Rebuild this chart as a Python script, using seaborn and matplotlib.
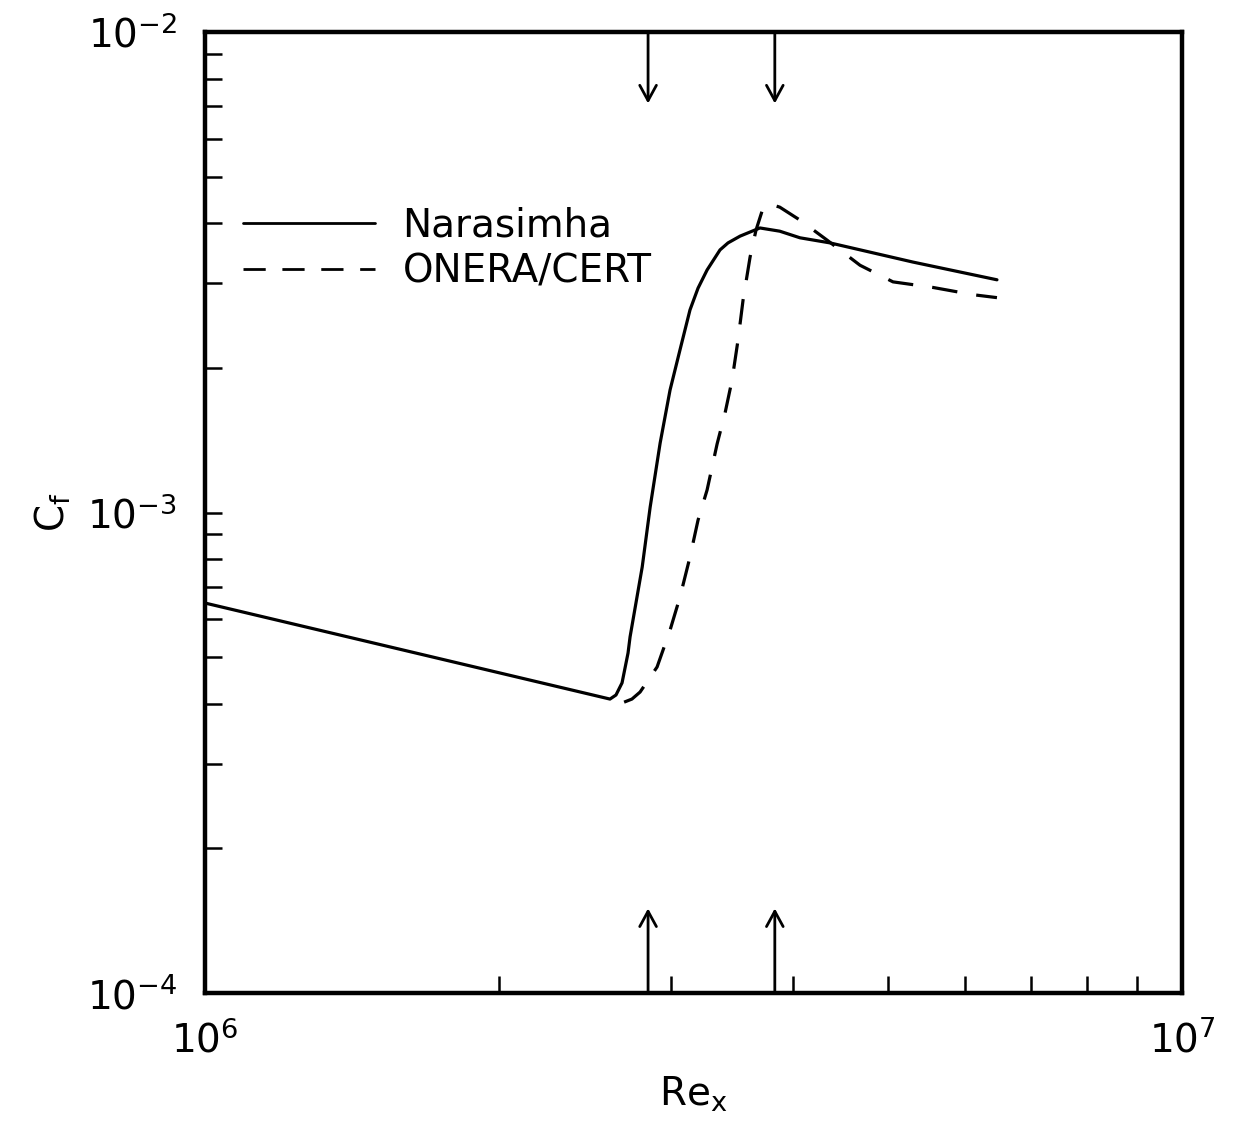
import matplotlib
matplotlib.use("Agg")
import matplotlib.pyplot as plt
import numpy as np
import pandas as pd
import seaborn as sns

# Narasimha curve (solid)
nar_re = [1.0e6, 2.597e6, 2.634e6, 2.672e6, 2.710e6, 2.723e6, 2.802e6, 2.855e6,
          2.923e6, 2.992e6, 3.063e6, 3.136e6, 3.196e6, 3.265e6, 3.366e6, 3.43e6,
          3.529e6, 3.698e6, 3.875e6, 4.064e6, 4.362e6, 5.305e6, 6.465e6]
nar_cf = [6.48e-4, 4.09e-4, 4.17e-4, 4.42e-4, 5.10e-4, 5.51e-4, 7.70e-4, 1.026e-3,
          1.395e-3, 1.798e-3, 2.18e-3, 2.64e-3, 2.93e-3, 3.197e-3, 3.52e-3, 3.64e-3,
          3.76e-3, 3.91e-3, 3.85e-3, 3.73e-3, 3.64e-3, 3.32e-3, 3.05e-3]

# ONERA/CERT curve (dashed)
one_re = [2.685e6, 2.735e6, 2.788e6, 2.902e6, 2.992e6, 3.063e6, 3.136e6, 3.196e6,
          3.265e6, 3.343e6, 3.406e6, 3.463e6, 3.512e6, 3.554e6, 3.613e6, 3.664e6,
          3.725e6, 3.778e6, 3.875e6, 4.064e6, 4.331e6, 4.682e6, 5.06e6, 5.561e6,
          6.11e6, 6.465e6]
one_cf = [4.03e-4, 4.09e-4, 4.23e-4, 4.77e-4, 5.69e-4, 6.67e-4, 8.08e-4, 9.64e-4,
          1.114e-3, 1.389e-3, 1.61e-3, 1.887e-3, 2.286e-3, 2.77e-3, 3.40e-3, 3.87e-3,
          4.30e-3, 4.39e-3, 4.32e-3, 4.06e-3, 3.69e-3, 3.27e-3, 3.02e-3, 2.94e-3,
          2.84e-3, 2.80e-3]

# transition markers
arrow_re = [2.841e6, 3.83e6]

sns.set_style("ticks")
plt.rcParams.update({'font.family'      : 'DejaVu Sans',
                     'font.size'        : 28,
                     'axes.linewidth'   : 3.2,
                     'axes.edgecolor'   : 'black',
                     'axes.labelcolor'  : 'black',
                     'text.color'       : 'black',
                     'xtick.color'      : 'black',
                     'ytick.color'      : 'black',
                     'mathtext.fontset' : 'dejavusans'})

df_nar = pd.DataFrame({'Re': nar_re, 'Cf': nar_cf})
df_one = pd.DataFrame({'Re': one_re, 'Cf': one_cf})

fig = plt.figure(figsize=(12.38, 11.27), dpi=100)
ax = fig.add_axes([0.1656, 0.1189, 0.7892, 0.8527])

sns.lineplot(data=df_nar, x='Re', y='Cf', ax=ax, color='black', lw=2.3,
             label='Narasimha', sort=False)
sns.lineplot(data=df_one, x='Re', y='Cf', ax=ax, color='black', lw=2.3,
             label='ONERA/CERT', sort=False)
ax.lines[1].set_dashes([8, 6])
for ln in ax.lines:
    ln.set_solid_joinstyle('round')
    ln.set_dash_joinstyle('round')

ax.set_xscale('log')
ax.set_yscale('log')
ax.set_xlim(1e6, 1e7)
ax.set_ylim(1e-4, 1e-2)

ax.set_xticks([1e6, 1e7])
ax.set_yticks([1e-4, 1e-3, 1e-2])
ax.tick_params(axis='x', which='major', length=0, pad=20, labelsize=28)
ax.tick_params(axis='x', which='minor', direction='in', length=12, width=1.8,
               bottom=True, top=False)
ax.tick_params(axis='y', which='both', direction='in', length=12, width=1.8,
               left=True, right=False, pad=20, labelsize=28)
ax.yaxis.set_minor_formatter(matplotlib.ticker.NullFormatter())
ax.xaxis.set_minor_formatter(matplotlib.ticker.NullFormatter())

ax.set_xlabel(r'Re$_\mathrm{x}$', fontsize=28, labelpad=10)
ax.set_ylabel(r'C$_\mathrm{f}$', fontsize=28, labelpad=10)

for xa in arrow_re:
    ax.annotate('', xy=(xa, 7.1e-3), xytext=(xa, 1e-2),
                arrowprops=dict(arrowstyle='->,head_length=0.55,head_width=0.3',
                                lw=2.0, color='black', mutation_scale=20,
                                shrinkA=0, shrinkB=0))
    ax.annotate('', xy=(xa, 1.5e-4), xytext=(xa, 1e-4),
                arrowprops=dict(arrowstyle='->,head_length=0.55,head_width=0.3',
                                lw=2.0, color='black', mutation_scale=20,
                                shrinkA=0, shrinkB=0))

leg = ax.legend(loc='upper left', bbox_to_anchor=(0.003, 0.855), frameon=False,
                fontsize=28, handlelength=3.4, handletextpad=0.7,
                labelspacing=0.2)
for h in leg.get_lines():
    h.set_linewidth(2.0)

plt.savefig('out.png', dpi=100)
